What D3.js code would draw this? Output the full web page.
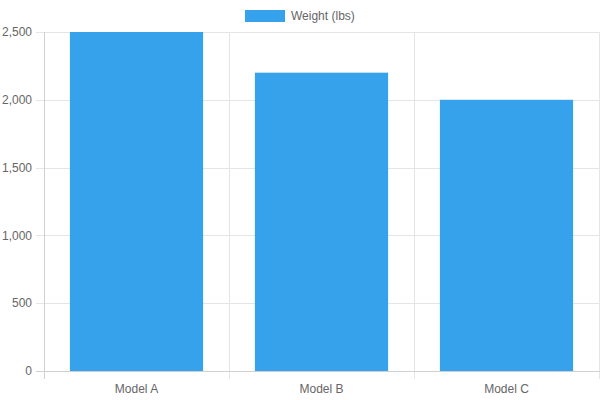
<!DOCTYPE html>
<html lang="en">
<head>
    <meta charset="UTF-8">
    <title>Weight by Model</title>
    <script src="https://d3js.org/d3.v7.min.js"></script>
</head>
<body>
    <div id="svg-container"></div>
</body>
<style>
    *{
        padding: 0;
        margin: 0;
    }
    body{
        background: white;
    }
    text{
        font-family: "Liberation Sans", Arial, sans-serif;
    }
</style>
<script>
    // data
    let models = ["Model A", "Model B", "Model C"];
    let weights = [2500, 2200, 2000];
    let yTicks = [0, 500, 1000, 1500, 2000, 2500];
    let seriesName = "Weight (lbs)";

    var w = 600;
    var h = 400;
    let margin = {top: 32, right: 1, bottom: 29, left: 44};
    let barColor = "#36a2eb";
    let gridColor = "#e5e5e5";
    let textColor = "#666";

    var svg = d3.select('#svg-container')
        .append('svg')
        .attr('width', w)
        .attr('height', h);

    let xScale = d3.scaleBand()
        .domain(models)
        .range([margin.left, w - margin.right])
        .paddingInner(0)
        .paddingOuter(0);

    let yScale = d3.scaleLinear()
        .domain([0, 2500])
        .range([h - margin.bottom, margin.top]);

    // horizontal grid + y tick marks
    svg.append('g')
        .selectAll('line')
        .data(yTicks)
        .enter()
        .append('line')
        .attr('x1', margin.left - 8)
        .attr('x2', w)
        .attr('y1', d => Math.round(yScale(d)) + 0.5)
        .attr('y2', d => Math.round(yScale(d)) + 0.5)
        .attr('stroke', gridColor)
        .attr('stroke-width', 1);

    // vertical grid at band edges
    let edges = models.map(m => xScale(m)).concat([xScale(models[2]) + xScale.bandwidth()]);
    svg.append('g')
        .selectAll('line')
        .data(edges)
        .enter()
        .append('line')
        .attr('x1', d => Math.round(d) + 0.5)
        .attr('x2', d => Math.round(d) + 0.5)
        .attr('y1', margin.top)
        .attr('y2', h - margin.bottom + 8)
        .attr('stroke', gridColor)
        .attr('stroke-width', 1);

    // bars
    let barW = xScale.bandwidth() * 0.72;
    svg.selectAll('rect.bar')
        .data(weights)
        .enter()
        .append('rect')
        .attr('class', 'bar')
        .attr('x', (d, i) => xScale(models[i]) + (xScale.bandwidth() - barW) / 2)
        .attr('y', d => yScale(d))
        .attr('width', barW)
        .attr('height', d => yScale(0) - yScale(d))
        .attr('fill', barColor);

    // axis lines
    svg.append('line')
        .attr('x1', margin.left + 0.5).attr('x2', margin.left + 0.5)
        .attr('y1', margin.top).attr('y2', h - margin.bottom + 8)
        .attr('stroke', '#d0d0d0');
    svg.append('line')
        .attr('x1', margin.left - 8).attr('x2', w)
        .attr('y1', Math.round(yScale(0)) + 0.5).attr('y2', Math.round(yScale(0)) + 0.5)
        .attr('stroke', '#d0d0d0');

    // y labels
    svg.append('g')
        .selectAll('text')
        .data(yTicks)
        .enter()
        .append('text')
        .attr('x', margin.left - 12)
        .attr('y', d => yScale(d))
        .attr('dy', '0.35em')
        .attr('text-anchor', 'end')
        .attr('font-size', 12)
        .attr('fill', textColor)
        .text(d => d3.format(',')(d));

    // x labels
    svg.append('g')
        .selectAll('text')
        .data(models)
        .enter()
        .append('text')
        .attr('x', d => xScale(d) + xScale.bandwidth() / 2)
        .attr('y', h - margin.bottom + 18)
        .attr('dy', '0.35em')
        .attr('text-anchor', 'middle')
        .attr('font-size', 12)
        .attr('fill', textColor)
        .text(d => d);

    // legend
    let legend = svg.append('g');
    legend.append('rect')
        .attr('x', 245).attr('y', 10)
        .attr('width', 40).attr('height', 12)
        .attr('fill', barColor);
    legend.append('text')
        .attr('x', 291).attr('y', 16)
        .attr('dy', '0.35em')
        .attr('font-size', 12)
        .attr('fill', textColor)
        .text(seriesName);
</script>
</html>
